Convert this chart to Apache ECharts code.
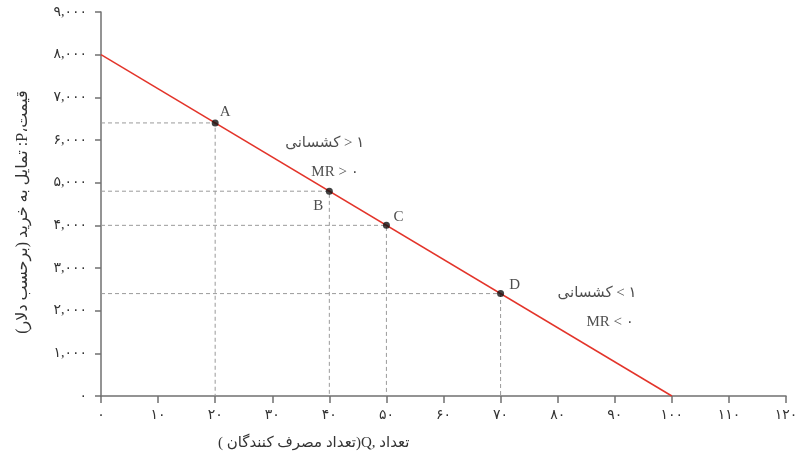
<!DOCTYPE html>
<html>
<head>
<meta charset="utf-8">
<script src="https://cdn.jsdelivr.net/npm/echarts@6/dist/echarts.min.js"></script>
<style>
  html, body { margin: 0; padding: 0; background: #fff; }
  #chart { width: 810px; height: 465px; }
</style>
</head>
<body>
<div id="chart"></div>
<script>
// منحنی تقاضا: از (۰، ۸۰۰۰) تا (۱۰۰، ۰)
const demandQ = [0, 100]
const demandP = [8000, 0]

// نقاط روی منحنی
const pointNames = ['A', 'B', 'C', 'D']
const pointQ = [20, 40, 50, 70]
const pointP = [6400, 4800, 4000, 2400]

// متن‌های توضیحی (ترتیب نمایش چپ به راست ثابت شده)
const LRE = '\u202A', PDF = '\u202C', RLI = '\u2067', PDI = '\u2069'
const noteTexts = [
  LRE + RLI + 'کشسانی' + PDI + ' > ۱' + PDF,
  'MR > ۰',
  LRE + RLI + 'کشسانی' + PDI + ' < ۱' + PDF,
  'MR < ۰'
]
const noteQ = [39.2, 41, 86.9, 89.2]
const noteP = [5930, 5250, 2420, 1740]

const xTicks = [0, 10, 20, 30, 40, 50, 60, 70, 80, 90, 100, 110, 120]
const yTicks = [0, 1000, 2000, 3000, 4000, 5000, 6000, 7000, 8000, 9000]

const yTitle = '\u202Bقیمت،P: تمایل به خرید (برحسب دلار)\u202C'
const xTitle = LRE + '( ' + RLI + 'تعداد مصرف کنندگان' + PDI + ')Q, ' + RLI + 'تعداد' + PDI + PDF

const faDigits = '۰۱۲۳۴۵۶۷۸۹'
function toFa (v) {
  let s = String(v).replace(/\B(?=(\d{3})+(?!\d))/g, ',')
  return s.replace(/\d/g, d => faDigits[d])
}

const font = "'Liberation Serif', 'DejaVu Sans', serif"
const axisGray = '#707070'

let chart = echarts.init(document.getElementById('chart'))

// خطوط راهنمای خط‌چین
let guideSeries = pointQ.map((q, i) => ({
  type: 'line',
  silent: true,
  symbol: 'none',
  lineStyle: { color: '#9a9a9a', width: 1, type: [4, 3] },
  data: [[0, pointP[i]], [q, pointP[i]], [q, 0]],
  z: 1
}))

// جای برچسب هر نقطه
const labelOffset = {
  A: [10, -11],
  B: [-11, 15],
  C: [12, -8],
  D: [14, -9]
}

let options = {
  animation: false,
  grid: { left: 101, right: 24, top: 12, bottom: 69 },
  xAxis: {
    type: 'value',
    min: xTicks[0],
    max: xTicks[xTicks.length - 1],
    interval: 10,
    axisLine: { lineStyle: { color: axisGray, width: 1.5 } },
    axisTick: { show: true, length: 7, lineStyle: { color: axisGray, width: 1.5 } },
    axisLabel: {
      margin: 12,
      color: '#333',
      fontSize: 14,
      fontFamily: font,
      formatter: v => toFa(v)
    },
    splitLine: { show: false }
  },
  yAxis: {
    type: 'value',
    min: yTicks[0],
    max: yTicks[yTicks.length - 1],
    interval: 1000,
    name: yTitle,
    nameLocation: 'middle',
    nameRotate: 90,
    nameGap: 70,
    nameTextStyle: { color: '#333', fontSize: 16, fontFamily: font, padding: [0, 16, 0, 0] },
    axisLine: { show: true, lineStyle: { color: axisGray, width: 1.5 } },
    axisTick: { show: true, length: 6, lineStyle: { color: axisGray, width: 1.5 } },
    axisLabel: {
      margin: 14,
      color: '#333',
      fontSize: 14,
      fontFamily: font,
      formatter: v => toFa(v)
    },
    splitLine: { show: false }
  },
  graphic: [
    {
      type: 'text',
      left: 218,
      top: 436,
      style: {
        text: xTitle,
        fill: '#333',
        font: '15px ' + font
      }
    }
  ],
  series: [
    ...guideSeries,
    {
      type: 'line',
      silent: true,
      symbol: 'none',
      lineStyle: { color: '#e3342a', width: 1.5 },
      data: demandQ.map((q, i) => [q, demandP[i]]),
      z: 2
    },
    {
      type: 'scatter',
      symbolSize: 7,
      itemStyle: { color: '#111' },
      data: pointQ.map((q, i) => ({
        value: [q, pointP[i]],
        name: pointNames[i],
        label: { offset: labelOffset[pointNames[i]] }
      })),
      label: {
        show: true,
        position: 'inside',
        formatter: p => p.name,
        color: '#222',
        fontSize: 15,
        fontFamily: font
      },
      z: 3
    },
    {
      type: 'scatter',
      symbolSize: 0,
      silent: true,
      data: noteQ.map((q, i) => ({ value: [q, noteP[i]], name: noteTexts[i] })),
      label: {
        show: true,
        position: 'inside',
        formatter: p => p.name,
        color: '#222',
        fontSize: 15,
        fontFamily: font
      },
      z: 3
    }
  ]
}
chart.setOption(options)
</script>
</body>
</html>
